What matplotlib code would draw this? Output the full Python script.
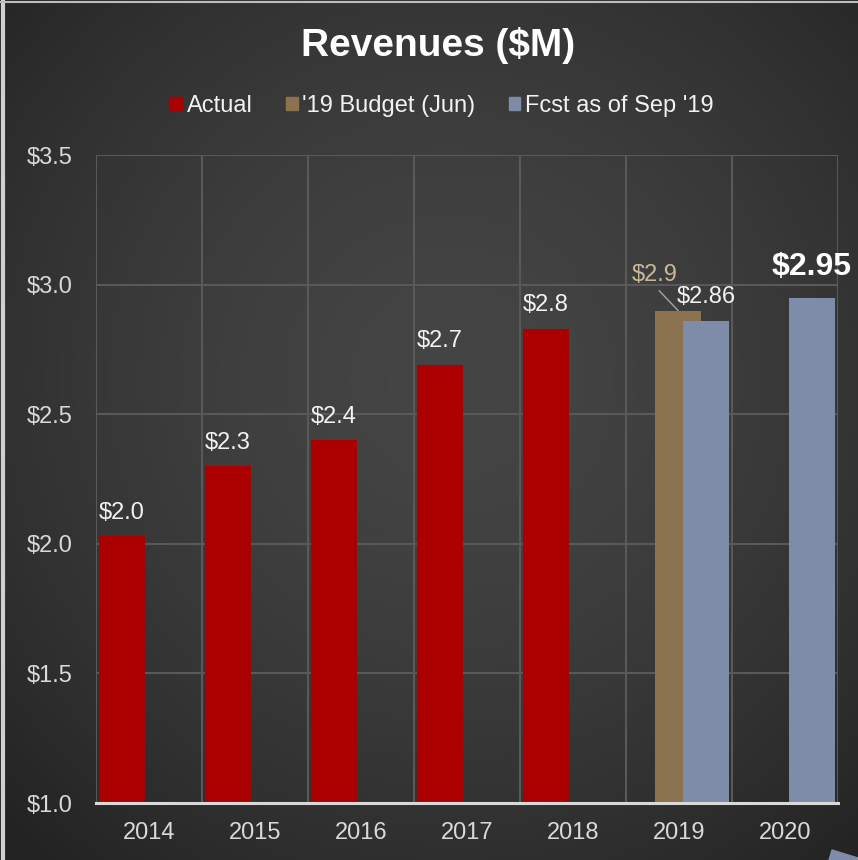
import numpy as np
import matplotlib
matplotlib.use("Agg")
from matplotlib import pyplot as plt
from matplotlib.patches import Patch, Polygon

plt.rcParams['font.family'] = ['Liberation Sans', 'DejaVu Sans']

# Data
years = ["2014", "2015", "2016", "2017", "2018", "2019", "2020"]
actual = [2.03, 2.30, 2.40, 2.69, 2.83, np.nan, np.nan]
budget = [np.nan, np.nan, np.nan, np.nan, np.nan, 2.90, np.nan]
fcst = [np.nan, np.nan, np.nan, np.nan, np.nan, 2.86, 2.95]
actual_labels = ["$2.0", "$2.3", "$2.4", "$2.7", "$2.8"]
yticks = [1.0, 1.5, 2.0, 2.5, 3.0, 3.5]

c_actual = "#AA0000"
c_budget = "#8B7350"
c_fcst = "#7F8CA9"
txt = "#F2F2F2"
tick_col = "#D9D9D9"

fig = plt.figure(figsize=(8.58, 8.6), dpi=100)

# background radial gradient
bg = fig.add_axes([0, 0, 1, 1], zorder=-10)
yy, xx = np.mgrid[0:860, 0:858]
d = np.sqrt(((xx - 450) / 620.0) ** 2 + ((yy - 380) / 620.0) ** 2)
shade = np.clip(0.27 - 0.13 * d ** 1.6, 0.14, 0.275)
bg.imshow(np.dstack([shade] * 3), aspect="auto", extent=[0, 1, 0, 1], origin="upper")
bg.axis("off")
# frame edge and corner shape
bg.plot([0.003, 0.003], [0, 1], color="#D0D0D0", lw=3, transform=bg.transAxes)
bg.plot([0, 1], [0.998, 0.998], color="#BDBDBD", lw=1.5, transform=bg.transAxes)
bg.add_patch(Polygon([[829 / 858, 0], [832 / 858, 10 / 860], [858 / 858, 2 / 860], [858 / 858, 0]],
                     closed=True, color="#7F8CA9", transform=bg.transAxes))
bg.set_xlim(0, 1)
bg.set_ylim(0, 1)

ax = fig.add_axes([96 / 858, 57 / 860, 742 / 858, 648 / 860])
ax.set_facecolor("none")
x = np.arange(len(years))
w = 0.44
ax.bar(x - 0.255, actual, w, color=c_actual, zorder=3)
ax.bar(x - 0.009, budget, w, color=c_budget, zorder=3)
ax.bar(x + 0.255, fcst, w, color=c_fcst, zorder=4)

ax.set_xlim(-0.5, 6.5)
ax.set_ylim(1.0, 3.5)
ax.set_yticks(yticks)
ax.set_yticklabels(["$%.1f" % v for v in yticks])
ax.set_xticks(x)
ax.set_xticklabels(years)
ax.set_xticks(np.arange(-0.5, 7.0, 1.0), minor=True)
ax.tick_params(axis="both", which="both", length=0, colors=tick_col, labelsize=17)
ax.tick_params(axis="y", pad=17)
ax.tick_params(axis="x", pad=14)
ax.grid(True, which="minor", axis="x", color="#595959", lw=1.5, zorder=0)
ax.grid(True, which="major", axis="y", color="#595959", lw=1.5, zorder=0)
for s in ["top", "right", "left"]:
    ax.spines[s].set_visible(False)
ax.spines["bottom"].set_color("#D9D9D9")
ax.spines["bottom"].set_linewidth(2.2)
ax.spines["bottom"].set_zorder(5)

# labels
for i, lab in enumerate(actual_labels):
    ax.annotate(lab, (x[i] - 0.255, actual[i]), xytext=(0, 9), textcoords="offset points",
                ha="center", va="bottom", color=txt, fontsize=17)
ax.annotate("$2.86", (x[5] + 0.255, fcst[5]), xytext=(0, 9), textcoords="offset points",
            ha="center", va="bottom", color=txt, fontsize=17)
ax.annotate("$2.95", (x[6] + 0.255, fcst[6]), xytext=(0, 11), textcoords="offset points",
            ha="center", va="bottom", color="white", fontsize=23, fontweight="bold")
ax.annotate("$2.9", (x[5] - 0.009, budget[5]), xytext=(x[5] - 0.23, 2.995), textcoords="data",
            ha="center", va="bottom", color="#C9B89A", fontsize=17,
            arrowprops=dict(arrowstyle="-", color="#A6A6A6", lw=1, shrinkA=2, shrinkB=0,
                            relpos=(0.5, 0.0)))

fig.text(438 / 858, 1 - 46 / 860, "Revenues ($M)", ha="center", va="center",
         color="white", fontsize=28, fontweight="bold")

handles = [Patch(color=c_actual), Patch(color=c_budget), Patch(color=c_fcst)]
fig.legend(handles, ["Actual", "'19 Budget (Jun)", "Fcst as of Sep '19"], loc="center",
           bbox_to_anchor=(442 / 858, 1 - 106 / 860), ncol=3, frameon=False, fontsize=17,
           labelcolor=txt, handlelength=0.5, handleheight=0.5, handletextpad=0.2,
           columnspacing=1.4)

fig.savefig("out.png", dpi=100)
